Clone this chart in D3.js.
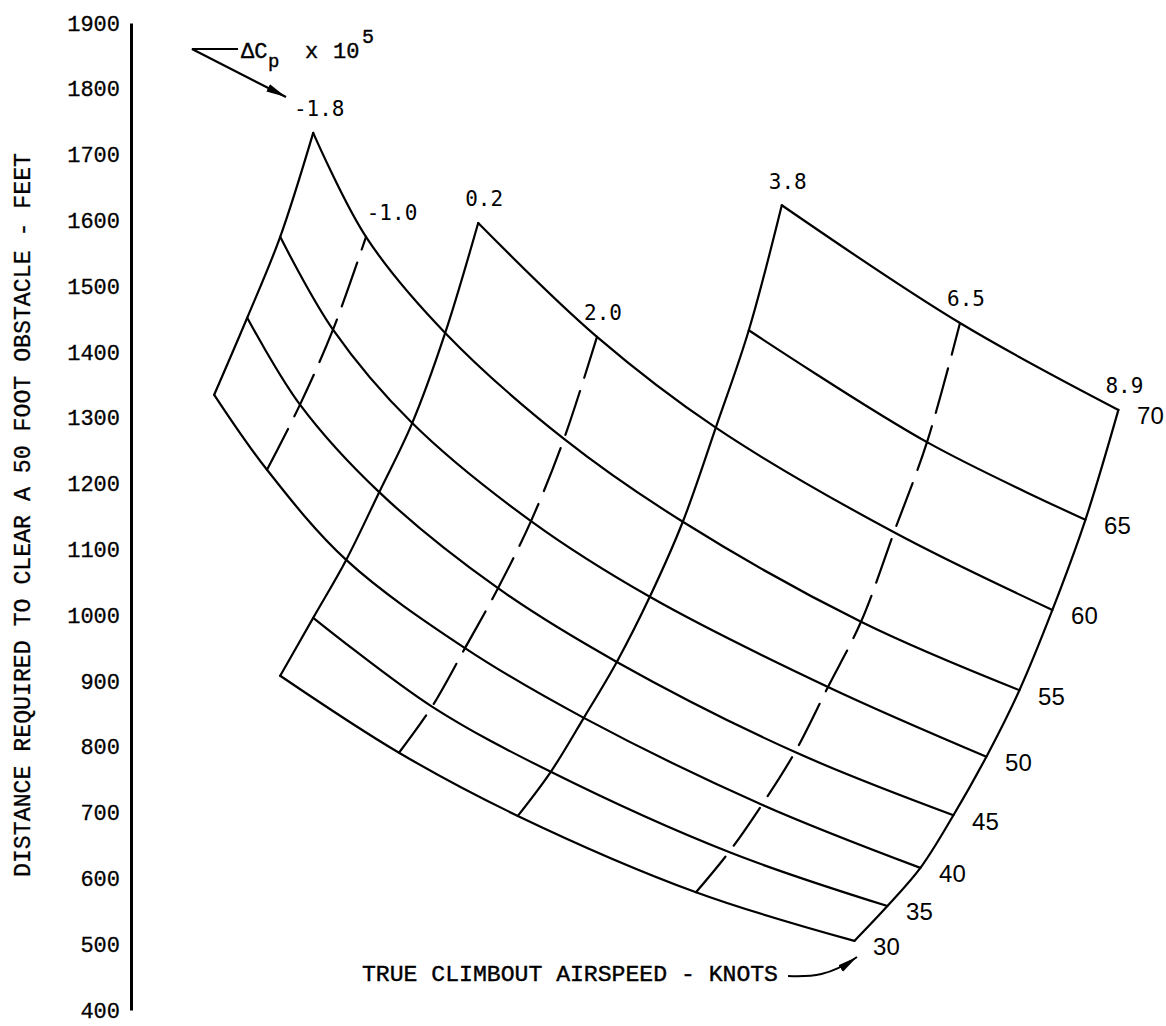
<!DOCTYPE html>
<html>
<head>
<meta charset="utf-8">
<script src="https://cdn.jsdelivr.net/npm/d3@7"></script>
<style>
  body { margin: 0; background: #fff; }
  svg { display: block; }
  .carpet { fill: none; stroke: #000; stroke-width: 2.2; stroke-linejoin: round; stroke-linecap: round; }
  .tick text { font-family: "Liberation Mono", monospace; font-size: 22px; fill: #000; stroke: #000; stroke-width: 0.3; }
</style>
</head>
<body>
<svg width="1166" height="1026"></svg>
<script>
// delta Cp x 10^5 lines of the carpet (dashed ones are the interpolated values)
var cpValues = [-1.8, -1.0, 0.2, 2.0, 3.8, 6.5, 8.9];
var cpLabels = ["-1.8", "-1.0", "0.2", "2.0", "3.8", "6.5", "8.9"];
var dashedCp = [-1.0, 2.0, 6.5];

// true climbout airspeed, knots
var speeds = [30, 35, 40, 45, 50, 55, 60, 65, 70];

// distance to clear a 50 ft obstacle (feet), one array per airspeed, in cpValues order
var dist30 = [null, null, 908, 791, 695, 579, 505];
var dist35 = [null, null, 996, 861, 762, 640, 558];
var dist40 = [1335, 1221, 1084, 950, 844, 712, 616];
var dist45 = [1452, 1320, 1187, 1041, 929, 792, 696];
var dist50 = [1575, 1434, 1292, 1143, 1028, 891, 785];
var dist55 = [1733, 1575, 1429, 1268, 1142, 990, 886];
var dist60 = [null, null, 1596, 1423, 1285, 1126, 1008];
var dist65 = [null, null, null, null, 1433, 1263, 1145];
var dist70 = [null, null, null, null, 1623, 1444, 1312];

var yTicks = [400, 500, 600, 700, 800, 900, 1000, 1100, 1200, 1300, 1400, 1500, 1600, 1700, 1800, 1900];

var distBySpeed = [dist30, dist35, dist40, dist45, dist50, dist55, dist60, dist65, dist70];

var svg = d3.select("svg");

// carpet abscissa: cp plus a shift per knot of airspeed
var shift = 0.1;
var x = d3.scaleLinear().domain([2, 16]).range([201, 1125]),
    y = d3.scaleLinear().domain([400, 1900]).range([1010, 23]);

var nodes = [];
speeds.forEach(function (s, i) {
    cpValues.forEach(function (cp, j) {
        var v = distBySpeed[i][j];
        if (v != null) nodes.push({ speed: s, cp: cp, dist: v });
    });
});

function px(d) { return x(d.cp + d.speed * shift); }
function py(d) { return y(d.dist); }

var line = d3.line().x(px).y(py).curve(d3.curveCatmullRom.alpha(0.5));

// y axis
var yAxis = svg.append("g")
    .attr("transform", "translate(131,0)")
    .call(d3.axisLeft(y).tickValues(yTicks).tickSize(0).tickPadding(11).tickFormat(d3.format("d")));
yAxis.select(".domain").attr("stroke", "#000").attr("stroke-width", 3);

svg.append("text")
    .attr("transform", "translate(30,515) rotate(-90)")
    .attr("text-anchor", "middle")
    .attr("textLength", 724)
    .attr("lengthAdjust", "spacingAndGlyphs")
    .style("font-family", "Liberation Mono, monospace")
    .style("font-size", "23px")
    .style("stroke", "#000").style("stroke-width", 0.3)
    .text("DISTANCE REQUIRED TO CLEAR A 50 FOOT OBSTACLE - FEET");

// speed lines
var g = svg.append("g");
speeds.forEach(function (s) {
    var pts = nodes.filter(function (d) { return d.speed == s; })
        .sort(function (a, b) { return a.cp - b.cp; });
    g.append("path").attr("class", "carpet").attr("d", line(pts));
});

// delta Cp lines
cpValues.forEach(function (cp) {
    var pts = nodes.filter(function (d) { return d.cp == cp; })
        .sort(function (a, b) { return a.speed - b.speed; });
    g.append("path").attr("class", "carpet")
        .attr("stroke-dasharray", dashedCp.indexOf(cp) >= 0 ? "46,14" : null)
        .attr("d", line(pts));
});

// delta Cp labels at the top of each line
cpValues.forEach(function (cp, j) {
    var pts = nodes.filter(function (d) { return d.cp == cp; });
    var top = pts.reduce(function (a, b) { return a.speed > b.speed ? a : b; });
    var dx = cp == -1.0 ? 26 : 6;
    svg.append("text")
        .attr("x", px(top) + dx)
        .attr("y", py(top) - 24)
        .attr("dy", "0.35em")
        .attr("text-anchor", "middle")
        .style("font-family", "DejaVu Sans Mono, monospace")
        .style("font-size", "21px")
        .text(cpLabels[j]);
});

// airspeed labels along the last Cp line
nodes.filter(function (d) { return d.cp == 8.9; }).forEach(function (d) {
    svg.append("text")
        .attr("x", px(d) + 32)
        .attr("y", py(d) + 6)
        .attr("dy", "0.35em")
        .attr("text-anchor", "middle")
        .style("font-family", "Liberation Sans, sans-serif")
        .style("font-size", "24px")
        .text(d.speed);
});

// arrow heads
svg.append("defs").append("marker")
    .attr("id", "head")
    .attr("viewBox", "0 0 20 10")
    .attr("refX", 20).attr("refY", 5)
    .attr("markerWidth", 20).attr("markerHeight", 10)
    .attr("markerUnits", "userSpaceOnUse")
    .attr("orient", "auto")
  .append("path")
    .attr("d", "M0,1 L20,5 L0,9 Z")
    .attr("fill", "#000");

// delta Cp legend
var leg = svg.append("text")
    .style("font-family", "Liberation Mono, monospace")
    .style("font-size", "22px")
    .style("stroke", "#000").style("stroke-width", 0.4)
    .attr("y", 58);
leg.append("tspan").attr("x", 241).text("\u0394C");
leg.append("tspan").attr("x", 268).attr("dy", 9).style("font-size", "19px").text("p");
leg.append("tspan").attr("x", 305).attr("dy", -9).text("x");
leg.append("tspan").attr("x", 333).text("10");
leg.append("tspan").attr("x", 362).attr("dy", -15).style("font-size", "20px").text("5");

svg.append("path")
    .attr("d", "M238,49 L192,49 L286,97")
    .attr("fill", "none").attr("stroke", "#000").attr("stroke-width", 2.2)
    .attr("marker-end", "url(#head)");

// airspeed title and arrow
svg.append("text")
    .attr("x", 362).attr("y", 981)
    .attr("textLength", 416)
    .attr("lengthAdjust", "spacingAndGlyphs")
    .style("font-family", "Liberation Mono, monospace")
    .style("font-size", "22px")
    .style("stroke", "#000").style("stroke-width", 0.4)
    .text("TRUE CLIMBOUT AIRSPEED - KNOTS");

svg.append("path")
    .attr("d", "M788,976 C812,977 830,976 857,957")
    .attr("fill", "none").attr("stroke", "#000").attr("stroke-width", 2)
    .attr("marker-end", "url(#head)");
</script>
</body>
</html>
